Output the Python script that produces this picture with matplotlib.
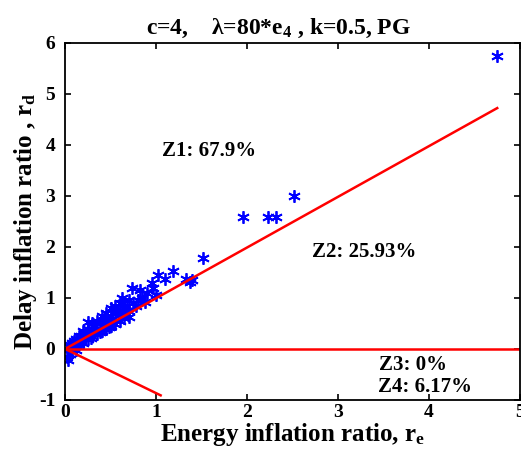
import matplotlib.pyplot as plt
import numpy as np

plt.rcParams["font.family"] = ["Liberation Serif", "DejaVu Serif"]
plt.rcParams["font.weight"] = "bold"
plt.rcParams["axes.unicode_minus"] = False
plt.rcParams["mathtext.fontset"] = "custom"
plt.rcParams["mathtext.rm"] = "Liberation Serif:bold"
plt.rcParams["mathtext.it"] = "Liberation Serif:bold"
plt.rcParams["mathtext.bf"] = "Liberation Serif:bold"

# energy / delay inflation ratios per run
r_e = [4.75, 2.52, 2.32, 2.23, 1.95, 1.52, 1.19, 1.10, 1.02, 1.33,
       0.96, 0.97, 0.82, 0.74, 0.63, 0.25, 0.90, 0.85, 0.80, 0.75,
       0.70, 0.68, 0.65, 0.60, 0.58, 0.55, 0.55, 0.50, 0.50, 0.45,
       0.45, 0.42, 0.40, 0.38, 0.35, 0.33, 0.30, 0.30, 0.28, 0.25,
       0.22, 0.20, 0.18, 0.15, 0.12, 0.10, 0.08, 0.05, 0.03, 0.70,
       0.62, 0.52, 1.00, 0.88, 0.78,
       0.10, 0.15, 0.20, 0.25, 0.30, 0.35, 0.40, 0.45, 0.50, 0.55,
       0.60, 0.65, 0.70, 0.08, 0.12, 0.18, 0.28, 0.38, 0.48, 1.37,
       1.40,
       0.03, 0.05, 0.08, 0.02, 0.12]
r_d = [5.74, 2.99, 2.59, 2.59, 2.59, 1.79, 1.53, 1.37, 1.45, 1.38,
       1.30, 1.20, 1.16, 1.20, 1.00, 0.53, 1.10, 1.00, 0.95, 0.90,
       0.95, 0.85, 0.80, 0.90, 0.75, 0.85, 0.70, 0.80, 0.65, 0.70,
       0.60, 0.55, 0.65, 0.50, 0.55, 0.45, 0.50, 0.40, 0.35, 0.40,
       0.30, 0.35, 0.25, 0.25, 0.20, 0.15, 0.12, 0.08, 0.05, 0.75,
       0.70, 0.58, 1.05, 0.92, 0.85,
       0.05, 0.10, 0.12, 0.20, 0.25, 0.30, 0.35, 0.40, 0.45, 0.48,
       0.55, 0.60, 0.62, 0.03, 0.08, 0.15, 0.22, 0.33, 0.42, 1.32,
       1.35,
       -0.22, -0.10, -0.05, -0.15, -0.03]

# zone boundaries (end points of rays from the origin)
upper_ray = (4.75, 4.72)
flat_ray = (5.0, 0.0)
lower_ray = (1.05, -0.91)

zone_labels = ["Z1: 67.9%", "Z2: 25.93%", "Z3: 0%", "Z4: 6.17%"]
zone_pos = [(1.07, 3.87), (2.71, 1.90), (3.45, -0.31), (3.44, -0.75)]

fig = plt.figure(figsize=(5.21, 4.55), dpi=100)
ax = fig.add_axes([0.125, 0.121, 0.873, 0.785])

ax.plot(r_e, r_d, linestyle="none", marker=(6, 2, 0), color="blue",
        markersize=9, markeredgewidth=1.3)
for x1, y1 in (upper_ray, flat_ray, lower_ray):
    ax.plot([0, x1], [0, y1], color="red", lw=1.8)

for txt, (x, y) in zip(zone_labels, zone_pos):
    ax.text(x, y, txt, fontsize=15, fontweight="bold", va="center")

ax.set_xlim(0, 5)
ax.set_ylim(-1, 6)
ax.set_xticks(np.arange(0, 6))
ax.set_yticks(np.arange(-1, 7))
ax.tick_params(direction="in", top=True, right=True, labelsize=14,
               length=4, width=1.2)
ax.tick_params(axis="x", pad=3)
ax.tick_params(axis="y", pad=7)
for lbl in ax.get_xticklabels() + ax.get_yticklabels():
    lbl.set_fontweight("bold")
for sp in ax.spines.values():
    sp.set_linewidth(1.3)

ax.set_xlabel(r"Energy inflation ratio, r$_\mathrm{e}$", fontsize=18,
              fontweight="bold", labelpad=0)
ax.set_ylabel(r"Delay inflation ratio , r$_\mathrm{d}$", fontsize=18,
              fontweight="bold", labelpad=0)
ax.set_title(r"c=4,    λ=80*e$_4$ , k=0.5, PG", fontsize=17,
             fontweight="bold", pad=6, x=0.47)

fig.savefig("out.png", dpi=100)
